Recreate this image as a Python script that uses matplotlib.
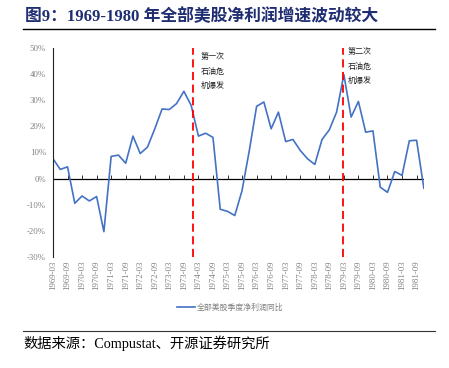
import matplotlib
matplotlib.use("Agg")
import matplotlib.pyplot as plt
import numpy as np

# quarterly YoY growth of net profit, all US stocks (%), 1969Q1 .. 1981Q4
quarters = [f"{y}-{m:02d}" for y in range(1969, 1982) for m in (3, 6, 9, 12)]
growth = [7.6, 3.5, 4.5, -9.5, -6.7, -8.6, -6.9, -20.4, 8.5, 9.0,
          5.9, 16.3, 9.6, 12.1, 19.1, 26.7, 26.5, 28.8, 33.5, 28.1,
          16.3, 17.4, 15.8, -11.8, -12.6, -14.2, -4.6, 10.8, 27.7, 29.4,
          19.1, 25.5, 14.2, 15.0, 10.8, 7.6, 5.4, 15.0, 18.7, 25.5,
          39.9, 23.6, 29.6, 17.8, 18.3, -3.3, -5.3, 2.7, 1.2, 14.5,
          14.7, -3.7]
crisis_pos = [19.25, 39.85]
crisis_text = ["第一次\n石油危\n机爆发", "第二次\n石油危\n机爆发"]
yticks = [-30, -20, -10, 0, 10, 20, 30, 40, 50]

serif = ['Liberation Serif', 'Noto Sans CJK SC']
gray = '#808080'

fig = plt.figure(figsize=(4.49, 3.68), dpi=100)
ax = fig.add_axes([0.118, 0.3025, 0.826, 0.5662])

x = np.arange(len(growth))
line, = ax.plot(x, growth, color='#4472C4', lw=1.2)
ax.axhline(0, color='black', lw=0.9, zorder=1)
for p in crisis_pos:
    ax.axvline(p, color='#FF0000', lw=1.3, ls=(0, (4.5, 2.5)), zorder=3)

ax.set_xlim(0, len(growth) - 1)
ax.set_ylim(-30, 50)
ax.set_yticks(yticks)
ax.set_yticklabels([f"{v}%" for v in yticks], family=serif, fontsize=6.3, color=gray)
ax.tick_params(axis='y', length=0, pad=5)

for s in ['top', 'right']:
    ax.spines[s].set_visible(False)
ax.spines['left'].set_color('#222222')
ax.spines['left'].set_linewidth(0.8)
ax.spines['bottom'].set_visible(False)

ticks = x[::2]
ax.set_xticks(ticks)
ax.tick_params(axis='x', direction='in', length=3, width=0.7, color='#333333',
               labelbottom=False)
ax.spines['bottom'].set_position(('data', 0))

sec = ax.secondary_xaxis('bottom')
sec.set_xticks(ticks)
sec.set_xticklabels([quarters[i] for i in ticks], rotation=90, family=serif,
                    fontsize=6.3, color=gray)
sec.tick_params(length=0, pad=3)
sec.spines['bottom'].set_visible(False)

ax.text(20.3, 48.5, crisis_text[0], fontsize=5.8, family=['Noto Sans CJK SC'],
        va='top', ha='left', linespacing=1.8, color='#222222')
ax.text(40.5, 50.5, crisis_text[1], fontsize=5.8, family=['Noto Sans CJK SC'],
        va='top', ha='left', linespacing=1.8, color='#222222')

fig.legend([line], ["全部美股季度净利润同比"], loc='center', bbox_to_anchor=(0.513, 0.164),
           frameon=False, handlelength=2.2, handletextpad=0.3,
           prop={'family': 'Noto Sans CJK SC', 'size': 5.7}, labelcolor=gray)

fig.text(0.055, 0.955, "图9：1969-1980 年全部美股净利润增速波动较大", family=serif,
         fontsize=12.1, fontweight='bold', color='#1F2D72', va='center', ha='left')
fig.add_artist(plt.Line2D([0.051, 0.969], [0.922, 0.922], color='black', lw=1))
fig.add_artist(plt.Line2D([0.051, 0.969], [0.100, 0.100], color='#333333', lw=0.8))
fig.text(0.053, 0.068, "数据来源：Compustat、开源证券研究所", family=serif,
         fontsize=10.3, color='black', va='center', ha='left')

fig.savefig("out.png", dpi=100)
